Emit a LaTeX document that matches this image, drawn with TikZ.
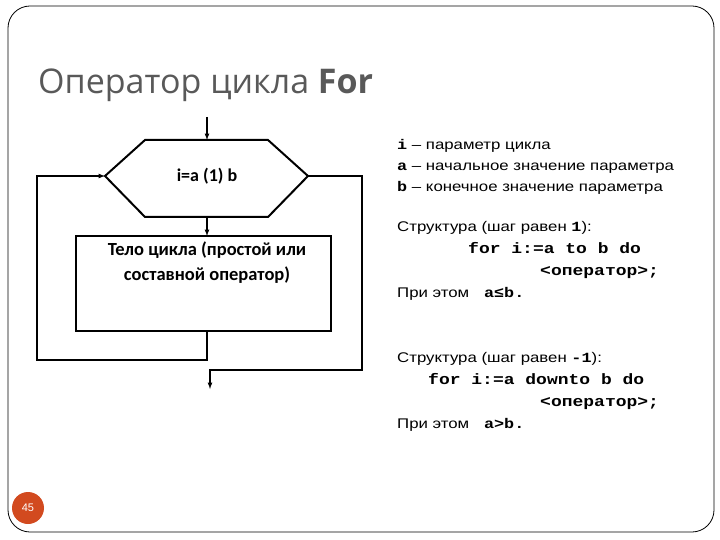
\documentclass[tikz,border=0pt]{standalone}
\usepackage{fontspec}
\setmainfont{Liberation Sans}
\setmonofont{Liberation Mono}
\newfontfamily\titlefont{Open Sans}
\newfontfamily\chartfont{Carlito}
\usetikzlibrary{shapes.geometric}
\definecolor{slidered}{HTML}{D24A1F}
\newcommand\wide[1]{\scalebox{1.2}[1]{#1}}
\tikzset{
  flow/.style   = {line width=2pt},
  link/.style   = {line width=1.2pt},
  arr/.style    = {link, -latex},
  txt/.style    = {anchor=base west, inner sep=0pt, font=\fontsize{14}{16}\selectfont},
  code/.style   = {anchor=base west, inner sep=0pt, font=\fontsize{15}{16}\selectfont\ttfamily\bfseries},
}
\begin{document}
\begin{tikzpicture}[x=1pt,y=-1pt]
  \useasboundingbox (0,0) rectangle (720,540);
  % slide frame
  \draw[line width=0.8pt, rounded corners=22pt] (8,6) rectangle (714,532);
  \node[anchor=base west, inner sep=0pt, text=black!65, font=\fontsize{34}{38}\selectfont\titlefont]
    (title) at (38,94) {Оператор цикла \textbf{For}};
  % flowchart
  \coordinate (top) at (207,117);
  \draw[flow] (105,176) coordinate (hexl) -- (145,140) -- (268,140) -- (308,176) coordinate (hexr)
    -- (268,217) -- (145,217) -- cycle;
  \node[inner sep=0pt, font=\fontsize{18}{20}\selectfont\chartfont\bfseries] (loop) at (207,176) {i=a (1) b};
  \coordinate (hexb) at (207,217);
  \draw[flow] (76,236) rectangle (331,331);
  \coordinate (bodyt) at (207,236);
  \coordinate (bodyb) at (207,331);
  \node[anchor=north, align=center, inner sep=0pt, font=\fontsize{18.5}{25}\selectfont\chartfont\bfseries]
    (body) at (207,242) {Тело цикла (простой или\\составной оператор)};
  \coordinate (exit) at (210,389);
  \draw[arr] (top) -- (207,140);
  \draw[arr] (hexb) -- (bodyt);
  \draw[arr] (bodyb) -- (207,360) -- (37,360) -- (37,176) -- (hexl);
  \draw[arr] (hexr) -- (362,176) -- (362,370) -- (210,370) -- (exit);
  % description
  \node[txt] (l1) at (397,150) {\wide{\texttt{\textbf{i}} – параметр цикла}};
  \node[txt] (l2) at (397,171) {\wide{\texttt{\textbf{a}} – начальное значение параметра}};
  \node[txt] (l3) at (397,192) {\wide{\texttt{\textbf{b}} – конечное значение параметра}};
  \node[txt] (s1) at (397,231) {\wide{Структура (шаг равен \texttt{\textbf{1}}):}};
  \node[code] (c1) at (468,253) {\wide{for i:=a to b do}};
  \node[code] (c2) at (540,275) {\wide{<оператор>;}};
  \node[txt] (p1) at (397,297) {\wide{При этом \texttt{\textbf{ a≤b.}}}};
  \node[txt] (s2) at (397,362) {\wide{Структура (шаг равен \texttt{\textbf{-1}}):}};
  \node[code] (c3) at (428,384) {\wide{for i:=a downto b do}};
  \node[code] (c4) at (540,406) {\wide{<оператор>;}};
  \node[txt] (p2) at (397,428) {\wide{При этом \texttt{\textbf{ a>b.}}}};
  % slide number
  \node[circle, fill=slidered, minimum size=32pt, inner sep=0pt, text=white,
    font=\fontsize{11}{12}\selectfont] (num) at (28,508) {45};
\end{tikzpicture}
\end{document}
